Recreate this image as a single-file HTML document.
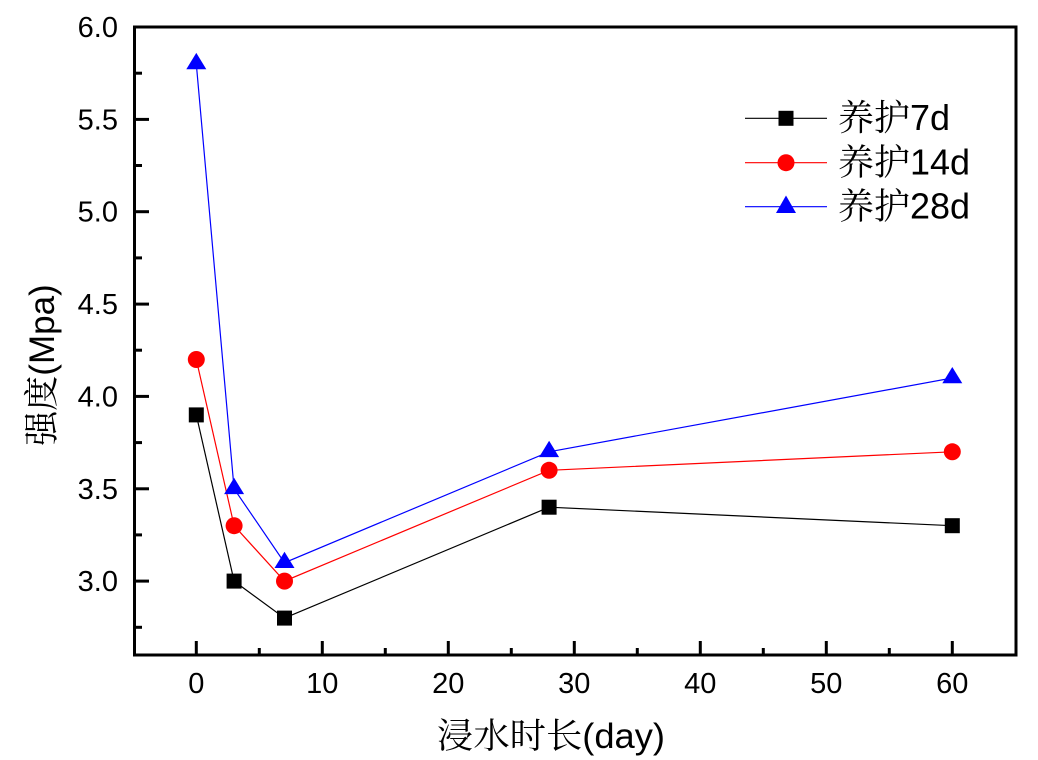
<!DOCTYPE html>
<html><head><meta charset="utf-8"><style>
html,body{margin:0;padding:0;background:#fff;}
svg{display:block;}
text{font-family:"Liberation Sans","Noto Serif CJK SC",serif;fill:#000;}
</style></head><body>
<svg width="1038" height="760" viewBox="0 0 1038 760" xmlns="http://www.w3.org/2000/svg">
<rect x="0" y="0" width="1038" height="760" fill="#fff"/>
<g stroke="#000" stroke-width="3">
<line x1="133" y1="581.1" x2="149" y2="581.1"/>
<line x1="133" y1="488.8" x2="149" y2="488.8"/>
<line x1="133" y1="396.4" x2="149" y2="396.4"/>
<line x1="133" y1="304.1" x2="149" y2="304.1"/>
<line x1="133" y1="211.7" x2="149" y2="211.7"/>
<line x1="133" y1="119.4" x2="149" y2="119.4"/>
<line x1="133" y1="627.3" x2="142" y2="627.3"/>
<line x1="133" y1="534.9" x2="142" y2="534.9"/>
<line x1="133" y1="442.6" x2="142" y2="442.6"/>
<line x1="133" y1="350.2" x2="142" y2="350.2"/>
<line x1="133" y1="257.9" x2="142" y2="257.9"/>
<line x1="133" y1="165.5" x2="142" y2="165.5"/>
<line x1="133" y1="73.2" x2="142" y2="73.2"/>
<line x1="196.3" y1="655" x2="196.3" y2="641"/>
<line x1="322.3" y1="655" x2="322.3" y2="641"/>
<line x1="448.3" y1="655" x2="448.3" y2="641"/>
<line x1="574.3" y1="655" x2="574.3" y2="641"/>
<line x1="700.3" y1="655" x2="700.3" y2="641"/>
<line x1="826.3" y1="655" x2="826.3" y2="641"/>
<line x1="952.3" y1="655" x2="952.3" y2="641"/>
<line x1="259.3" y1="655" x2="259.3" y2="648"/>
<line x1="385.3" y1="655" x2="385.3" y2="648"/>
<line x1="511.3" y1="655" x2="511.3" y2="648"/>
<line x1="637.3" y1="655" x2="637.3" y2="648"/>
<line x1="763.3" y1="655" x2="763.3" y2="648"/>
<line x1="889.3" y1="655" x2="889.3" y2="648"/>
</g>
<rect x="134.5" y="27" width="881.5" height="628" fill="none" stroke="#000" stroke-width="3"/>
<g font-size="29" text-anchor="end">
<text x="118" y="37">6.0</text>
<text x="118" y="129.4">5.5</text>
<text x="118" y="221.7">5.0</text>
<text x="118" y="314.1">4.5</text>
<text x="118" y="406.4">4.0</text>
<text x="118" y="498.8">3.5</text>
<text x="118" y="591.1">3.0</text>
</g>
<g font-size="29" text-anchor="middle">
<text x="196.3" y="693">0</text>
<text x="322.3" y="693">10</text>
<text x="448.3" y="693">20</text>
<text x="574.3" y="693">30</text>
<text x="700.3" y="693">40</text>
<text x="826.3" y="693">50</text>
<text x="952.3" y="693">60</text>
</g>
<text x="437" y="748" font-size="35" textLength="228" lengthAdjust="spacingAndGlyphs">浸水时长(day)</text>
<text transform="translate(54,365) rotate(-90)" font-size="35" text-anchor="middle">强度(Mpa)</text>
<polyline fill="none" stroke="#000" stroke-width="1.2" points="196.3,414.9 234.1,581.1 284.5,618.1 549.1,507.2 952.3,525.7"/>
<polyline fill="none" stroke="#f00" stroke-width="1.2" points="196.3,359.5 234.1,525.7 284.5,581.1 549.1,470.3 952.3,451.8"/>
<polyline fill="none" stroke="#00f" stroke-width="1.2" points="196.3,63.9 234.1,488.8 284.5,562.7 549.1,451.8 952.3,378"/>
<g fill="#000">
<rect x="188.8" y="407.4" width="15" height="15"/>
<rect x="226.6" y="573.6" width="15" height="15"/>
<rect x="277" y="610.6" width="15" height="15"/>
<rect x="541.6" y="499.7" width="15" height="15"/>
<rect x="944.8" y="518.2" width="15" height="15"/>
</g>
<g fill="#f00">
<circle cx="196.3" cy="359.5" r="8.5"/>
<circle cx="234.1" cy="525.7" r="8.5"/>
<circle cx="284.5" cy="581.1" r="8.5"/>
<circle cx="549.1" cy="470.3" r="8.5"/>
<circle cx="952.3" cy="451.8" r="8.5"/>
</g>
<g fill="#00f">
<polygon points="196.3,52.9 206.3,69.2 186.3,69.2"/>
<polygon points="234.1,477.8 244.1,494.1 224.1,494.1"/>
<polygon points="284.5,551.7 294.5,568 274.5,568"/>
<polygon points="549.1,440.8 559.1,457.1 539.1,457.1"/>
<polygon points="952.3,367 962.3,383.3 942.3,383.3"/>
</g>
<line x1="745" y1="118.3" x2="827" y2="118.3" stroke="#000" stroke-width="1.2"/>
<rect x="778.5" y="110.8" width="15" height="15" fill="#000"/>
<line x1="745" y1="162.7" x2="827" y2="162.7" stroke="#f00" stroke-width="1.2"/>
<circle cx="786" cy="162.7" r="8.5" fill="#f00"/>
<line x1="745" y1="206.7" x2="827" y2="206.7" stroke="#00f" stroke-width="1.2"/>
<polygon points="786,195.5 796,213 776,213" fill="#00f"/>
<g font-size="36">
<text x="838" y="130">养护7d</text>
<text x="838" y="174.4">养护14d</text>
<text x="838" y="218.4">养护28d</text>
</g>
</svg>
</body></html>
